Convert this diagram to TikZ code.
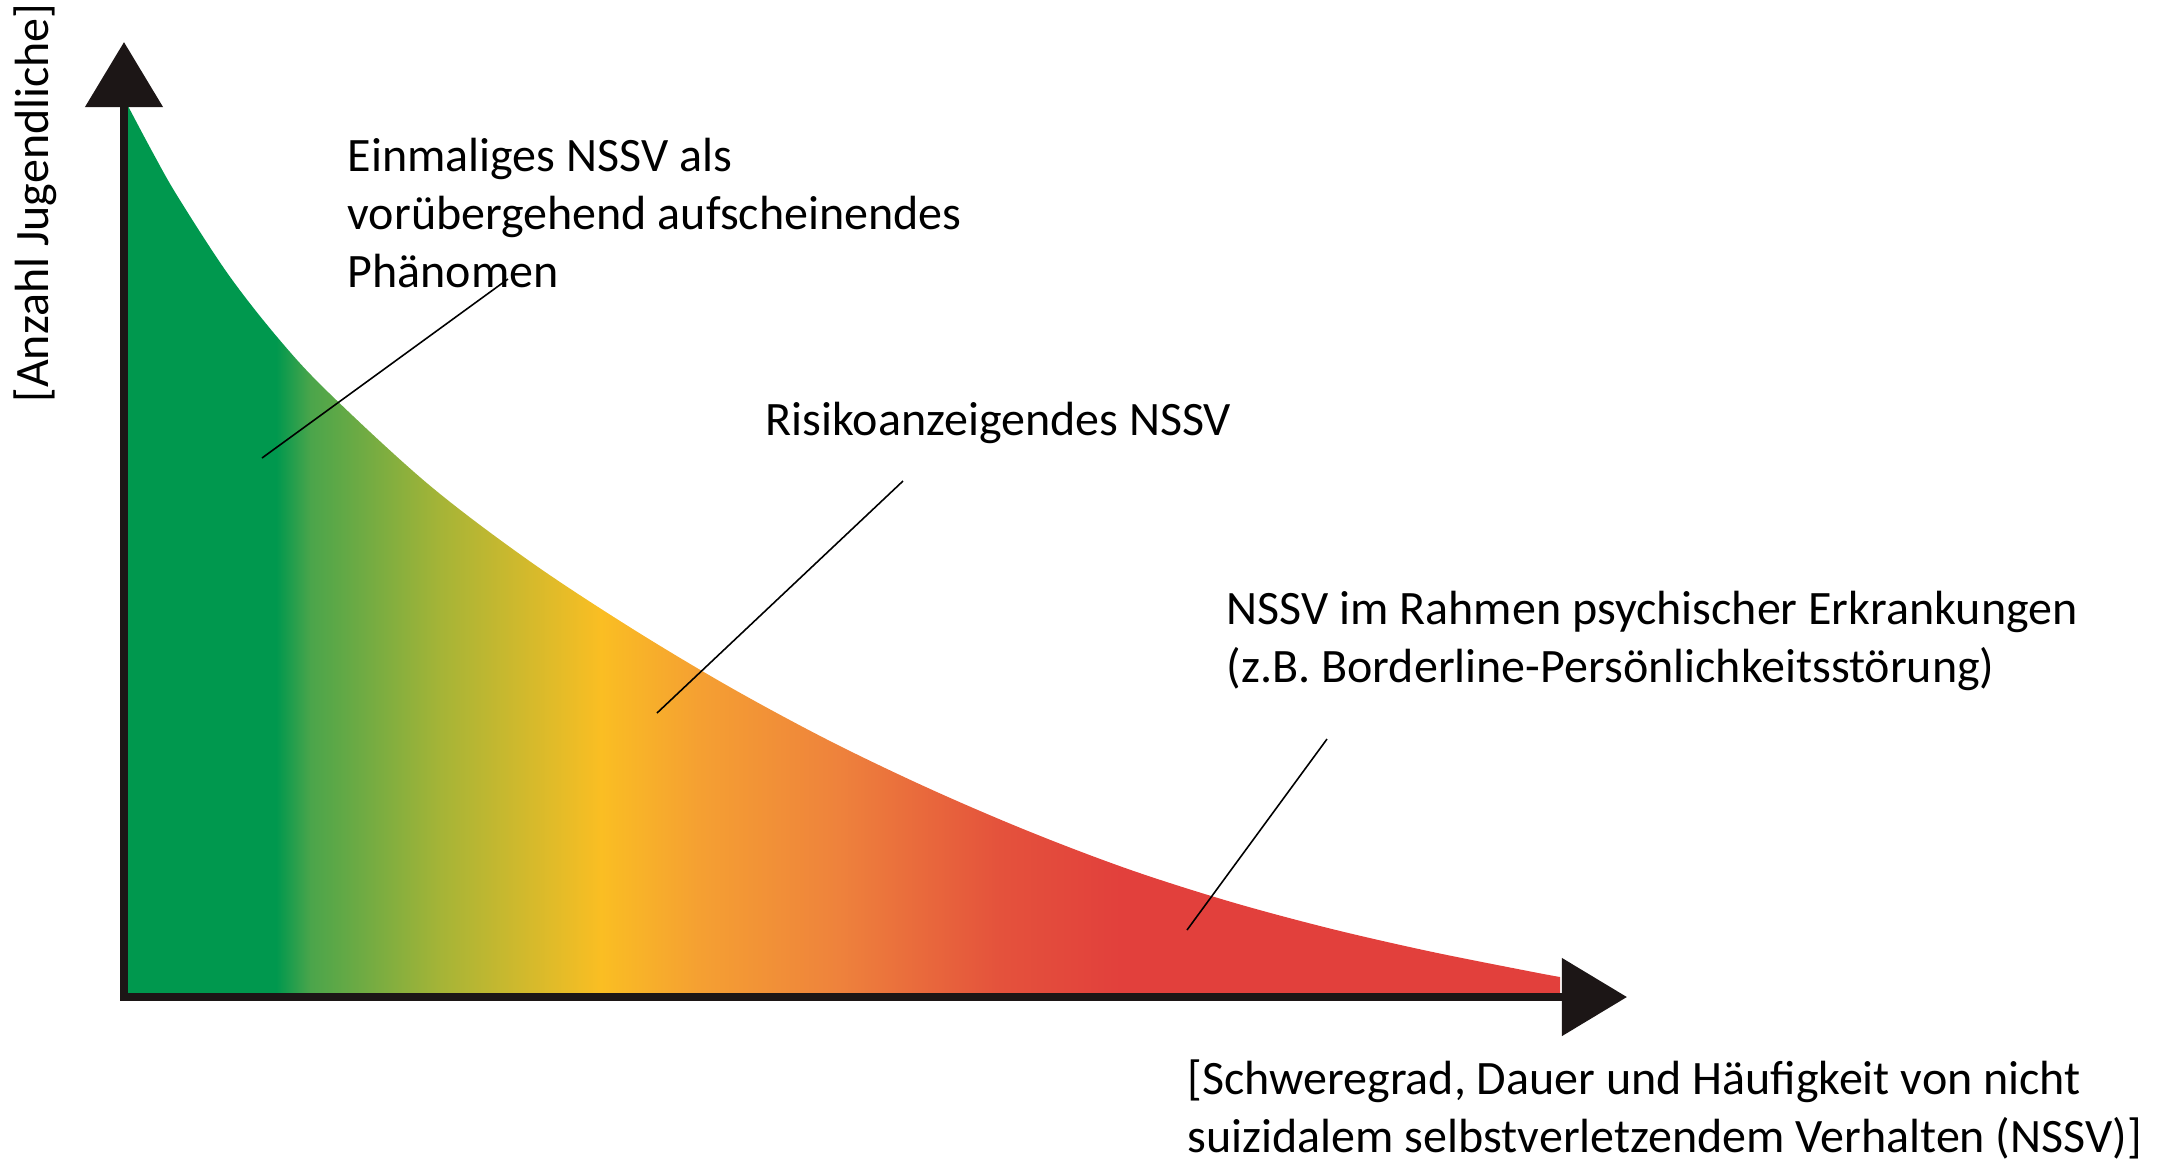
\documentclass[tikz,border=0pt]{standalone}
\usepackage{fontspec}
\setmainfont{Carlito}
\usetikzlibrary{arrows.meta}
\definecolor{axisblack}{RGB}{28,22,22}
\definecolor{nssvgreen}{RGB}{0,152,78}
\definecolor{nssvlime}{RGB}{75,165,75}
\definecolor{nssvolive}{RGB}{165,180,55}
\definecolor{nssvyellow}{RGB}{250,190,35}
\definecolor{nssvamber}{RGB}{245,160,50}
\definecolor{nssvorange}{RGB}{238,130,60}
\definecolor{nssvcoral}{RGB}{228,82,60}
\definecolor{nssvred}{RGB}{226,64,60}
% colour run of the area below the curve (x = 124 ... 1560 maps to 25bp ... 75bp)
\pgfdeclarehorizontalshading{nssvshade}{100bp}{
  color(0bp)=(nssvgreen); color(30.3bp)=(nssvgreen); color(31.5bp)=(nssvlime);
  color(36bp)=(nssvolive); color(41.6bp)=(nssvyellow); color(45bp)=(nssvamber);
  color(49.9bp)=(nssvorange); color(55.5bp)=(nssvcoral); color(59.7bp)=(nssvred);
  color(100bp)=(nssvred)}
\tikzset{
  >={Triangle[length=6.5mm, width=7.6mm]},
  axis/.style={draw=axisblack, line width=2.3pt},
  leader/.style={line width=0.45pt},
  lbl/.style={font=\fontsize{13.65}{16.4}\selectfont, align=left, inner sep=0pt, anchor=base west},
}
\begin{document}
\begin{tikzpicture}[x=0.01cm, y=-0.01cm]
  \useasboundingbox (0,0) rectangle (2157,1162);
  \coordinate (O) at (124,997);
  \coordinate (ytip) at (124,42);
  \coordinate (xtip) at (1627,997);
  % area under the curve
  \shade[shading=nssvshade] (124,993) -- (124,106) -- plot[smooth, tension=0.55] coordinates {
    (128,106) (153,153) (178,197) (228,274) (278,338) (328,392) (428,484) (528,560)
    (628,626) (728,686) (828,740) (928,788) (1028,831) (1128,869) (1228,901)
    (1328,928) (1428,951) (1528,971) (1560,977)} -- (1560,993) -- cycle;
  % axes
  \draw[axis, <->] (ytip) -- (O) -- (xtip);
  \node[lbl, rotate=90, anchor=base] (ylab) at (48,203) {[Anzahl Jugendliche]};
  \node[lbl] (xlab) at (1187,1152) {[Schweregrad, Dauer und Häufigkeit von nicht\\suizidalem selbstverletzendem Verhalten (NSSV)]};
  % labels (anchor = baseline of the last line)
  \node[lbl] (einmal) at (347,287) {Einmaliges NSSV als\\vorübergehend aufscheinendes\\Phänomen};
  \node[lbl] (risiko) at (765,435) {Risikoanzeigendes NSSV};
  \node[lbl] (psych) at (1226,682) {NSSV im Rahmen psychischer Erkrankungen\\(z.B. Borderline-Persönlichkeitsstörung)};
  \coordinate (einmalA) at (262,458);
  \coordinate (einmalB) at (508,279);
  \coordinate (risikoA) at (657,713);
  \coordinate (risikoB) at (903,481);
  \coordinate (psychA) at (1187,930);
  \coordinate (psychB) at (1327,739);
  \draw[leader] (einmalA) -- (einmalB);
  \draw[leader] (risikoA) -- (risikoB);
  \draw[leader] (psychA) -- (psychB);
\end{tikzpicture}
\end{document}
